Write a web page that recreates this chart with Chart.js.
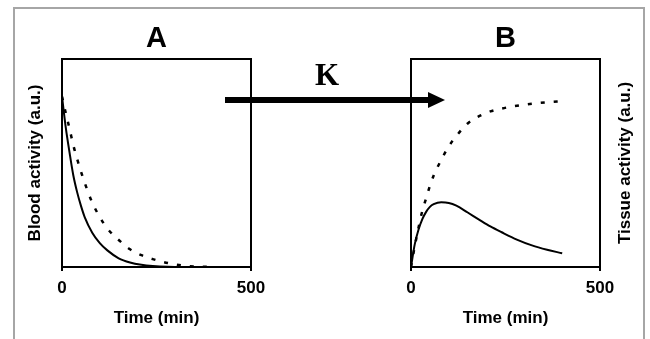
<!DOCTYPE html>
<html>
<head>
<meta charset="utf-8">
<script src="https://cdn.jsdelivr.net/npm/chart.js@4"></script>
<style>
    html, body { margin: 0; padding: 0; background: #fff; }
    #page { position: relative; width: 650px; height: 339px; overflow: hidden; }
    .frame {
        position: absolute; left: 13px; top: 7px; width: 632px; height: 360px;
        border: 2px solid #a6a6a6; box-sizing: border-box;
    }
    .panel { position: absolute; top: 0; height: 339px; }
    #panel-a { left: 0; width: 300px; }
    #panel-b { left: 350px; width: 300px; }
    .shaft { position: absolute; left: 225px; top: 97px; width: 205px; height: 6px; background: #000; }
    .head {
        position: absolute; left: 428px; top: 92px; width: 0; height: 0;
        border-left: 17px solid #000; border-top: 8px solid transparent; border-bottom: 8px solid transparent;
    }
    .k-label {
        position: absolute; left: 300px; width: 54px; top: 58px; text-align: center;
        font: bold 31px "Liberation Serif", "Times New Roman", serif; line-height: 34px;
    }
</style>
</head>
<body>
<div id="page">
    <div class="frame"></div>
    <div class="panel" id="panel-a"><canvas id="chart-a"></canvas></div>
    <div class="panel" id="panel-b"><canvas id="chart-b"></canvas></div>
    <div class="shaft"></div>
    <div class="head"></div>
    <div class="k-label">K</div>
</div>
<script>
    // Time points (min)
    const times = [0, 10, 20, 30, 40, 50, 60, 80, 100, 120, 150, 180, 210, 240, 280, 320, 360, 400];

    // Panel A - blood activity
    const bloodSolid  = [0.82, 0.67, 0.55, 0.44, 0.36, 0.295, 0.24, 0.165, 0.115, 0.08, 0.042, 0.022, 0.011, 0.005, 0.001, 0, 0, 0];
    const bloodDashed = [0.82, 0.74, 0.665, 0.585, 0.52, 0.46, 0.405, 0.31, 0.24, 0.185, 0.13, 0.085, 0.057, 0.038, 0.019, 0.007, 0.002, 0];

    // Panel B - tissue activity
    const tissueSolid  = [0, 0.11, 0.18, 0.23, 0.265, 0.289, 0.302, 0.311, 0.308, 0.295, 0.262, 0.228, 0.195, 0.167, 0.132, 0.104, 0.083, 0.066];
    const tissueDashed = [0, 0.10, 0.19, 0.27, 0.33, 0.39, 0.44, 0.515, 0.58, 0.63, 0.69, 0.725, 0.748, 0.762, 0.775, 0.785, 0.792, 0.798];

    const xTicks = [0, 500];

    Chart.defaults.font.family = "'Liberation Sans', Arial, sans-serif";
    Chart.defaults.font.weight = 'bold';
    Chart.defaults.color = '#000';

    // draws the black box round the plot area
    const boxPlugin = {
        id: 'plotBox',
        afterDraw(chart) {
            const { ctx, chartArea } = chart;
            ctx.save();
            ctx.strokeStyle = '#000';
            ctx.lineWidth = 2;
            ctx.strokeRect(chartArea.left, chartArea.top, chartArea.right - chartArea.left, chartArea.bottom - chartArea.top);
            ctx.restore();
        }
    };

    // y title on the right side, reading bottom to top
    const rightTitlePlugin = {
        id: 'rightTitle',
        afterDraw(chart, args, opts) {
            if (!opts.text) return;
            const { ctx, chartArea } = chart;
            ctx.save();
            ctx.translate(chartArea.right + opts.offset, (chartArea.top + chartArea.bottom) / 2);
            ctx.rotate(-Math.PI / 2);
            ctx.font = "bold 17px 'Liberation Sans', Arial, sans-serif";
            ctx.fillStyle = '#000';
            ctx.textAlign = 'center';
            ctx.textBaseline = 'middle';
            ctx.fillText(opts.text, 0, 0);
            ctx.restore();
        }
    };

    function toPoints(values) {
        return values.map((v, i) => ({ x: times[i], y: v }));
    }

    function makePanel(canvasId, opts) {
        const ctx = document.getElementById(canvasId).getContext('2d');
        return new Chart(ctx, {
            type: 'line',
            data: {
                datasets: [
                    {
                        label: 'solid',
                        data: toPoints(opts.solid),
                        borderColor: '#000',
                        borderWidth: 2,
                        pointRadius: 0,
                        cubicInterpolationMode: 'monotone'
                    },
                    {
                        label: 'dashed',
                        data: toPoints(opts.dashed),
                        borderColor: '#000',
                        borderWidth: 2.5,
                        borderDash: [4, 9],
                        pointRadius: 0,
                        cubicInterpolationMode: 'monotone'
                    }
                ]
            },
            options: {
                responsive: true,
                maintainAspectRatio: false,
                animation: false,
                layout: { padding: { left: 0, right: opts.rightPad, top: 0, bottom: 0 } },
                plugins: {
                    legend: { display: false },
                    tooltip: { enabled: false },
                    title: {
                        display: true,
                        text: opts.title,
                        fullSize: false,
                        font: { size: 29, weight: 'bold', lineHeight: 1 },
                        padding: { top: 24, bottom: 6 }
                    },
                    rightTitle: { text: opts.rightTitle, offset: 25 }
                },
                scales: {
                    x: {
                        type: 'linear',
                        min: 0,
                        max: 500,
                        afterBuildTicks: scale => { scale.ticks = xTicks.map(v => ({ value: v })); },
                        afterFit: scale => { scale.height = 72; },
                        grid: { display: true, drawOnChartArea: false, drawTicks: true, tickLength: 4, color: '#000', lineWidth: 2 },
                        border: { display: false },
                        ticks: { font: { size: 17, weight: 'bold' }, padding: 7, maxRotation: 0 },
                        title: {
                            display: true,
                            text: 'Time (min)',
                            font: { size: 17, weight: 'bold' },
                            padding: { top: 0, bottom: 10 }
                        }
                    },
                    y: {
                        min: 0,
                        max: 1,
                        afterFit: scale => { scale.width = opts.leftWidth; },
                        grid: { display: false },
                        border: { display: false },
                        ticks: { display: false },
                        title: {
                            display: !!opts.leftTitle,
                            text: opts.leftTitle || '',
                            font: { size: 17, weight: 'bold' },
                            padding: { top: 25, bottom: 0 }
                        }
                    }
                }
            },
            plugins: [boxPlugin, rightTitlePlugin]
        });
    }

    makePanel('chart-a', {
        title: 'A',
        solid: bloodSolid,
        dashed: bloodDashed,
        leftTitle: 'Blood activity (a.u.)',
        leftWidth: 62,
        rightPad: 49
    });

    makePanel('chart-b', {
        title: 'B',
        solid: tissueSolid,
        dashed: tissueDashed,
        rightTitle: 'Tissue activity (a.u.)',
        leftWidth: 61,
        rightPad: 50
    });
</script>
</body>
</html>
